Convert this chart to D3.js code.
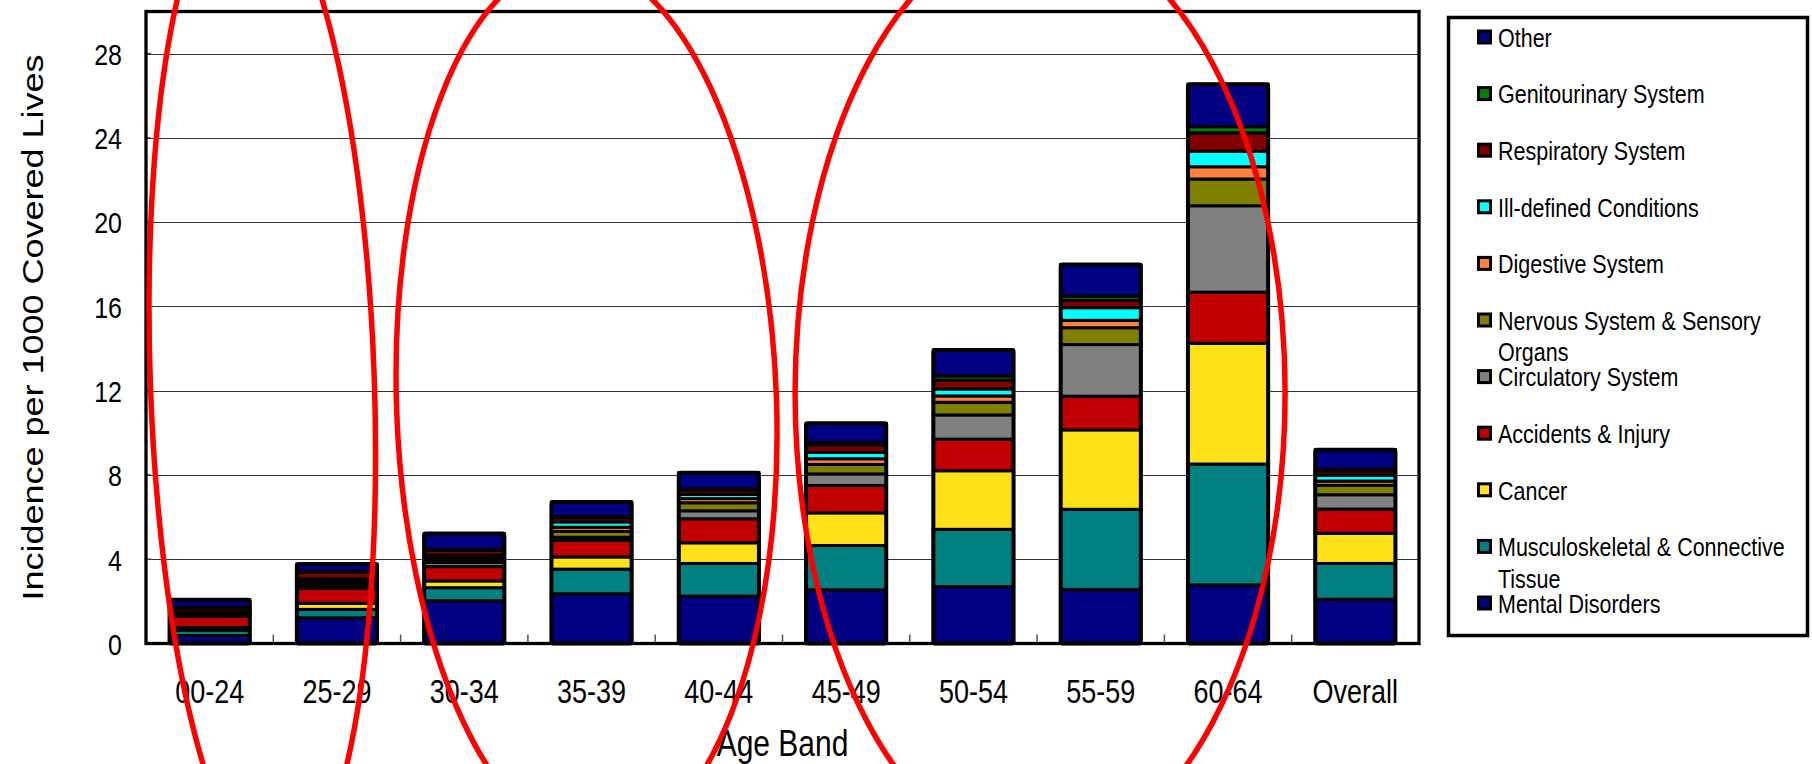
<!DOCTYPE html>
<html>
<head>
<meta charset="utf-8">
<script src="https://cdn.jsdelivr.net/npm/d3@7"></script>
<style>
  body { margin: 0; background: #fff; }
  svg text { font-family: "Liberation Sans", Arial, sans-serif; fill: #000; }
</style>
</head>
<body>
<div id="chart"></div>
<script>
// age bands on the x axis
const ageBands = ["00-24", "25-29", "30-34", "35-39", "40-44", "45-49", "50-54", "55-59", "60-64", "Overall"];

// incidence per 1000 covered lives, one array per cause (bottom of stack first)
const mentalDisorders = [0.38, 1.22, 2.03, 2.36, 2.25, 2.55, 2.70, 2.57, 2.78, 2.10];
const musculoskeletal = [0.25, 0.40, 0.62, 1.17, 1.55, 2.10, 2.72, 3.80, 5.74, 1.70];
const cancer          = [0.13, 0.29, 0.32, 0.58, 0.98, 1.55, 2.78, 3.77, 5.73, 1.43];
const accidents       = [0.54, 0.71, 0.68, 0.78, 1.14, 1.30, 1.50, 1.60, 2.43, 1.15];
const circulatory     = [0.06, 0.15, 0.20, 0.15, 0.38, 0.55, 1.15, 2.45, 4.10, 0.68];
const nervous         = [0.05, 0.10, 0.15, 0.28, 0.38, 0.45, 0.60, 0.80, 1.27, 0.45];
const digestive       = [0.04, 0.10, 0.10, 0.20, 0.20, 0.27, 0.30, 0.35, 0.58, 0.20];
const illDefined      = [0.05, 0.10, 0.10, 0.25, 0.20, 0.30, 0.33, 0.60, 0.74, 0.28];
const respiratory     = [0.18, 0.30, 0.22, 0.20, 0.20, 0.35, 0.42, 0.35, 0.87, 0.20];
const genitourinary   = [0.04, 0.05, 0.05, 0.05, 0.05, 0.13, 0.20, 0.20, 0.29, 0.08];
const other           = [0.36, 0.35, 0.75, 0.70, 0.78, 0.90, 1.23, 1.50, 2.02, 0.93];

const seriesNames = ["Mental Disorders", "Musculoskeletal & Connective Tissue", "Cancer",
  "Accidents & Injury", "Circulatory System", "Nervous System & Sensory Organs",
  "Digestive System", "Ill-defined Conditions", "Respiratory System",
  "Genitourinary System", "Other"];
const seriesValues = [mentalDisorders, musculoskeletal, cancer, accidents, circulatory,
  nervous, digestive, illDefined, respiratory, genitourinary, other];
const seriesColors = ["#000080", "#008080", "#FFE11A", "#C00000", "#808080", "#808000",
  "#FF8040", "#00FFFF", "#800000", "#008000", "#000080"];

const yTicks = [0, 4, 8, 12, 16, 20, 24, 28];

// bands circled in red on the original
const circledGroups = [["00-24", "25-29"], ["30-34", "40-44"], ["45-49", "60-64"]];

const width = 1812;
const height = 764;
const plot = { left: 146, right: 1419, top: 11.5, bottom: 643.5 };
const stretch = 1.2; // the source picture is stretched vertically

const svg = d3.select("#chart").append("svg")
  .attr("width", width)
  .attr("height", height);

svg.append("rect").attr("width", width).attr("height", height).attr("fill", "#fff");

const x = d3.scaleBand()
  .domain(ageBands)
  .range([plot.left, plot.right])
  .paddingInner(0.37)
  .paddingOuter(0.185);

const y = d3.scaleLinear()
  .domain([0, 30])
  .range([plot.bottom, plot.top]);

// gridlines
svg.append("g")
  .selectAll("line")
  .data(yTicks.filter(d => d > 0))
  .join("line")
  .attr("x1", plot.left).attr("x2", plot.right)
  .attr("y1", d => Math.round(y(d)) + 0.5).attr("y2", d => Math.round(y(d)) + 0.5)
  .attr("stroke", "#333")
  .attr("stroke-width", 1.2);

// small inner ticks
svg.append("g")
  .selectAll("line")
  .data(yTicks)
  .join("line")
  .attr("x1", plot.left).attr("x2", plot.left + 5)
  .attr("y1", d => y(d)).attr("y2", d => y(d))
  .attr("stroke", "#444").attr("stroke-width", 1.5);

svg.append("g")
  .selectAll("line")
  .data(ageBands.slice(1))
  .join("line")
  .attr("x1", d => x(d) - x.step() * x.paddingInner() / 2)
  .attr("x2", d => x(d) - x.step() * x.paddingInner() / 2)
  .attr("y1", plot.bottom).attr("y2", plot.bottom - 9)
  .attr("stroke", "#555").attr("stroke-width", 1.5);

// stacked bars
const rows = ageBands.map((band, i) => {
  const row = { band };
  seriesNames.forEach((name, s) => { row[name] = seriesValues[s][i]; });
  return row;
});

const stacked = d3.stack().keys(seriesNames)(rows);

const bars = svg.append("g");
stacked.forEach((layer, s) => {
  bars.append("g")
    .attr("fill", seriesColors[s])
    .selectAll("rect")
    .data(layer)
    .join("rect")
    .attr("x", d => x(d.data.band))
    .attr("width", x.bandwidth())
    .attr("y", d => y(d[1]))
    .attr("height", d => y(d[0]) - y(d[1]))
    .attr("stroke", "#000")
    .attr("stroke-width", 3);
});

const totals = rows.map(r => d3.sum(seriesNames, n => r[n]));
bars.append("g")
  .selectAll("rect")
  .data(ageBands)
  .join("rect")
  .attr("x", d => x(d))
  .attr("width", x.bandwidth())
  .attr("y", (d, i) => y(totals[i]))
  .attr("height", (d, i) => y(0) - y(totals[i]))
  .attr("rx", 2)
  .attr("fill", "none")
  .attr("stroke", "#000")
  .attr("stroke-width", 4);

// plot frame
svg.append("rect")
  .attr("x", plot.left).attr("y", plot.top)
  .attr("width", plot.right - plot.left)
  .attr("height", plot.bottom - plot.top)
  .attr("fill", "none")
  .attr("stroke", "#000")
  .attr("stroke-width", 3.3);

// y axis labels
const yAxis = svg.append("g")
  .attr("transform", `translate(${plot.left},0)`)
  .call(d3.axisLeft(y).tickValues(yTicks).tickSize(0).tickPadding(24));
yAxis.select(".domain").remove();
yAxis.selectAll("text")
  .attr("dy", "0.36em")
  .attr("transform", `scale(1,${stretch})`)
  .style("font-family", '"Liberation Sans", Arial, sans-serif')
  .style("font-size", "25px");

// x axis labels
const xAxis = svg.append("g")
  .attr("transform", `translate(0,${plot.bottom})`)
  .call(d3.axisBottom(x).tickSize(0));
xAxis.select(".domain").remove();
xAxis.selectAll("text")
  .attr("y", 0)
  .attr("dy", null)
  .attr("transform", `translate(0,59.8) scale(1,${stretch})`)
  .style("font-family", '"Liberation Sans", Arial, sans-serif')
  .style("font-size", "27px");

// axis titles
svg.append("text")
  .attr("transform", `translate(${(plot.left + plot.right) / 2},756) scale(1,${stretch})`)
  .attr("text-anchor", "middle")
  .style("font-size", "30px")
  .text("Age Band");

svg.append("text")
  .attr("transform", `translate(43,${(plot.top + plot.bottom) / 2}) rotate(-90) scale(${stretch},1)`)
  .attr("text-anchor", "middle")
  .style("font-size", "30px")
  .text("Incidence per 1000 Covered Lives");

// legend
const legend = svg.append("g");
legend.append("rect")
  .attr("x", 1448.5).attr("y", 17.5)
  .attr("width", 359).attr("height", 618)
  .attr("fill", "#fff")
  .attr("stroke", "#000")
  .attr("stroke-width", 3.5);

const legendOrder = d3.range(seriesNames.length).reverse();
const items = legend.selectAll("g.item")
  .data(legendOrder)
  .join("g")
  .attr("class", "item")
  .attr("transform", (d, i) => `translate(1477,${37 + i * 56.6})`);

items.append("rect")
  .attr("x", 1.5).attr("y", -6)
  .attr("width", 12).attr("height", 12)
  .attr("fill", d => seriesColors[d])
  .attr("stroke", "#000")
  .attr("stroke-width", 3);

items.each(function (d) {
  const words = seriesNames[d].split(" ");
  const t = d3.select(this).append("text")
    .attr("transform", `translate(21,9.7) scale(1,${stretch})`)
    .style("font-size", "21.5px");
  let line = [];
  let tspan = t.append("tspan").attr("x", 0).attr("y", 0);
  let lineNo = 0;
  words.forEach(w => {
    line.push(w);
    tspan.text(line.join(" "));
    if (tspan.node().getComputedTextLength() > 300 && line.length > 1) {
      line.pop();
      tspan.text(line.join(" "));
      line = [w];
      lineNo += 1;
      tspan = t.append("tspan").attr("x", 0).attr("y", lineNo * 26.4).text(w);
    }
  });
});

// red rings drawn over the chart
const ringShapes = [
  { dx: -11, cy: 381, rx: 112, ry: 500, rot: -2 },
  { dx: -5, cy: 404, rx: 190, ry: 443, rot: -2 },
  { dx: 3, cy: 393, rx: 245, ry: 464, rot: 0 }
];
svg.append("g")
  .selectAll("ellipse")
  .data(circledGroups)
  .join("ellipse")
  .attr("transform", (g, i) => {
    const cx = (x(g[0]) + x(g[1]) + x.bandwidth()) / 2 + ringShapes[i].dx;
    return `translate(${cx},${ringShapes[i].cy}) rotate(${ringShapes[i].rot})`;
  })
  .attr("rx", (g, i) => ringShapes[i].rx)
  .attr("ry", (g, i) => ringShapes[i].ry)
  .attr("fill", "none")
  .attr("stroke", "#FF0000")
  .attr("stroke-width", 5.5);
</script>
</body>
</html>
